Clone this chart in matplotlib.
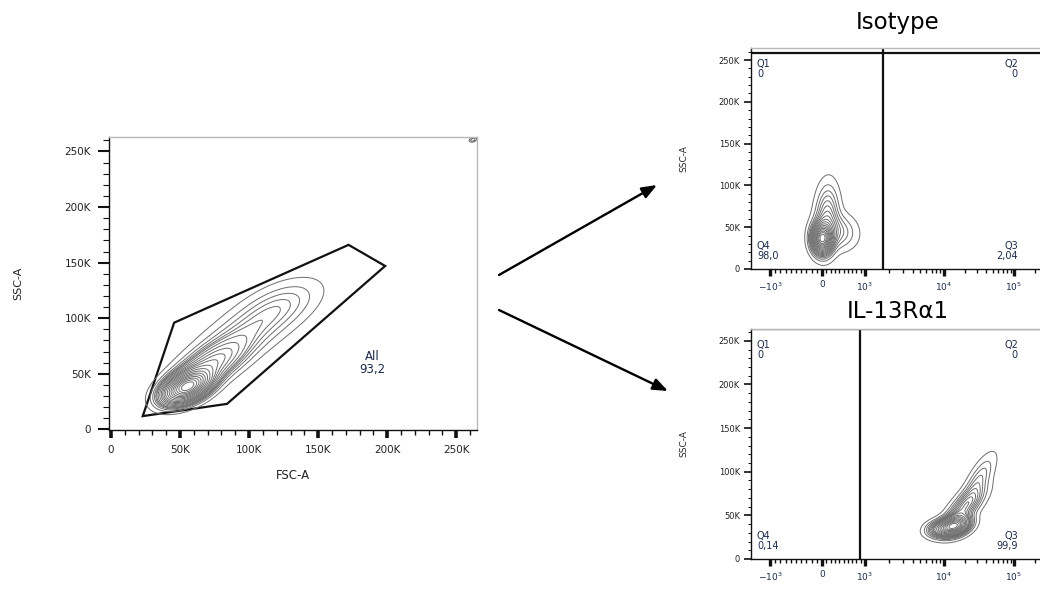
import numpy as np
import matplotlib
matplotlib.use("Agg")
import matplotlib.pyplot as plt
from matplotlib.patches import FancyArrowPatch
from matplotlib.ticker import FixedLocator, MultipleLocator, FuncFormatter

W, H = 1040, 589
TEXT = "#1c2b4a"
CONTOUR = "#6e6e6e"

# ---- FSC/SSC scatter gate ----
gate_fsc = [23000, 45700, 172000, 198500, 84000]
gate_ssc = [12000, 96000, 166000, 147000, 23000]
gate_name, gate_pct = "All", "93,2"

# populations: centre x, centre y, sd x, sd y, correlation, weight
scatter_mx = [55000, 70000, 97000, 122000]
scatter_my = [38000, 56000, 86000, 112000]
scatter_sx = [10000, 17000, 23000, 19000]
scatter_sy = [8500, 15000, 19000, 15000]
scatter_rho = [0.45, 0.7, 0.68, 0.55]
scatter_w = [0.45, 0.29, 0.17, 0.09]

# saturated events piled in the top corner
sat_x, sat_y = [262000], [260500]

# ---- quadrant plots (x on a biexponential display scale) ----
titles = ["Isotype", "IL-13R\u03b11"]
quad_x = [1700, 890]
quad_y = [258000, 263000]
quad_pct = [("0", "0", "2,04", "98,0"), ("0", "0", "99,9", "0,14")]

# x centres in data units, spreads in display units
iso_mx = [0, 116, 330]
iso_my = [36000, 62000, 45000]
iso_su = [6, 7, 12]
iso_sy = [10500, 23000, 13000]
iso_rho = [0.0, 0.1, -0.1]
iso_w = [0.52, 0.30, 0.18]

il_mx = [14400, 20000, 31000, 9200]
il_my = [38000, 60000, 90000, 35000]
il_su = [9, 12, 10, 9]
il_sy = [7000, 14000, 18000, 6000]
il_rho = [0.3, 0.7, 0.75, 0.2]
il_w = [0.45, 0.27, 0.13, 0.15]

# biexponential axis: linear inside +-10^3, decades outside
SCALE_T = np.array([-4, -3, 0, 3, 4, 5, 6], float)
SCALE_POS = np.array([-122, -52, 0, 43, 122, 192, 262], float)


def _t(x):
    x = np.asarray(x, float)
    ax_ = np.abs(x)
    return np.where(ax_ < 1e3, 3 * x / 1e3, np.sign(x) * np.log10(np.maximum(ax_, 1e3)))


def _t_inv(t):
    t = np.asarray(t, float)
    return np.where(np.abs(t) < 3, t * 1e3 / 3, np.sign(t) * 10 ** np.abs(t))


def logicle_fwd(x):
    return np.interp(_t(x), SCALE_T, SCALE_POS)


def logicle_inv(u):
    return _t_inv(np.interp(np.asarray(u, float), SCALE_POS, SCALE_T))


def mixture(X, Y, mx, my, sx, sy, rho, w):
    Z = np.zeros_like(X)
    for a, b, s, t, r, k in zip(mx, my, sx, sy, rho, w):
        dx, dy = (X - a) / s, (Y - b) / t
        q = (dx * dx - 2 * r * dx * dy + dy * dy) / (1 - r * r)
        Z += k * np.exp(-0.5 * q) / (s * t * np.sqrt(1 - r * r))
    return Z


def prob_levels(Z, outer=0.97, n=19):
    # equal-probability contours
    zs = np.sort(Z.ravel())[::-1]
    c = np.cumsum(zs)
    c /= c[-1]
    fracs = np.linspace(outer, 0.05, n)
    return np.unique(np.interp(fracs, c, zs))


def px_axes(left, top, right, bottom):
    return fig.add_axes([left / W, 1 - bottom / H, (right - left) / W, (bottom - top) / H])


def style_spines(ax):
    for side in ("top", "right"):
        ax.spines[side].set_color("#b8b8b8")
        ax.spines[side].set_linewidth(1.0)
    for side in ("left", "bottom"):
        ax.spines[side].set_color("#111111")
        ax.spines[side].set_linewidth(1.0)


def k_fmt(v, p):
    return "0" if v == 0 else f"{int(v / 1000)}K"


def log_fmt(v, p):
    labels = {-1e3: r"$-10^3$", 0: "0", 1e3: r"$10^3$", 1e4: r"$10^4$", 1e5: r"$10^5$"}
    return labels.get(v, "")


fig = plt.figure(figsize=(W / 100, H / 100), dpi=100)

# ---------------- left plot ----------------
ax = px_axes(109, 137, 477, 430)
ax.set_xlim(-1450, 265000)
ax.set_ylim(-500, 263000)
gx = np.linspace(0, 265000, 450)
gy = np.linspace(0, 263000, 450)
GX, GY = np.meshgrid(gx, gy)
Z = mixture(GX, GY, scatter_mx, scatter_my, scatter_sx, scatter_sy, scatter_rho, scatter_w)
ax.contour(GX, GY, Z, levels=prob_levels(Z, 0.965, 20), colors=CONTOUR, linewidths=0.7)

# tiny loop of off-scale events in the corner
cx = np.linspace(255000, 265000, 60)
cy = np.linspace(254000, 265000, 60)
CX, CY = np.meshgrid(cx, cy)
ZS = mixture(CX, CY, sat_x, sat_y, [1500], [1200], [0.3], [1.0])
ax.contour(CX, CY, ZS, levels=[0.2 * ZS.max(), 0.6 * ZS.max()], colors=CONTOUR, linewidths=0.8)

ax.fill(gate_fsc, gate_ssc, facecolor="none", edgecolor="#111111", linewidth=1.6)
ax.text(189000, 60000, f"{gate_name}\n{gate_pct}",
        ha="center", va="center", fontsize=8.5, color=TEXT, linespacing=1.0)

ax.xaxis.set_major_locator(MultipleLocator(50000))
ax.xaxis.set_minor_locator(MultipleLocator(10000))
ax.yaxis.set_major_locator(MultipleLocator(50000))
ax.yaxis.set_minor_locator(MultipleLocator(10000))
ax.xaxis.set_major_formatter(FuncFormatter(k_fmt))
ax.yaxis.set_major_formatter(FuncFormatter(k_fmt))
ax.tick_params(axis="x", which="major", length=6, width=2.6, labelsize=7.5, colors="#111111", labelcolor="#222222", pad=5)
ax.tick_params(axis="x", which="minor", length=3.5, width=1.0, colors="#111111")
ax.tick_params(axis="y", which="major", length=8, width=1.5, labelsize=7.5, colors="#111111", labelcolor="#222222", pad=5)
ax.tick_params(axis="y", which="minor", length=4, width=0.8, colors="#111111")
style_spines(ax)
ax.set_xlabel("FSC-A", fontsize=8.5, color="#222222", labelpad=10)
ax.set_ylabel("SSC-A", fontsize=8, color="#222222", labelpad=30)

# ---------------- quadrant plots ----------------
boxes = [(751, 48, 1045, 269), (751, 329, 1045, 559)]
ymax = [264400, 263500]
title_pad = [14, 8]
pops = [(iso_mx, iso_my, iso_su, iso_sy, iso_rho, iso_w),
        (il_mx, il_my, il_su, il_sy, il_rho, il_w)]

u = np.linspace(-71, 223, 450)
yy = np.linspace(0, 264000, 450)
U, YY = np.meshgrid(u, yy)
XD = logicle_inv(U)

minor_ticks = ([-v for v in range(100, 1000, 100)] + list(range(100, 1000, 100))
               + [m * 10 ** e for e in (3, 4) for m in range(2, 10)] + [2e5])

for i, box in enumerate(boxes):
    ax = px_axes(*box)
    ax.set_xscale("function", functions=(logicle_fwd, logicle_inv))
    ax.set_xlim(logicle_inv(-71), logicle_inv(223))
    ax.set_ylim(0, ymax[i])

    mx, my, su, sy, rho, w = pops[i]
    Z = mixture(U, YY, logicle_fwd(mx), my, su, sy, rho, w)
    ax.contour(XD, YY, Z, levels=prob_levels(Z, 0.97, 18), colors=CONTOUR, linewidths=0.7)

    ax.axvline(quad_x[i], color="#111111", linewidth=1.6)
    ax.axhline(quad_y[i], color="#111111", linewidth=1.6)

    q1, q2, q3, q4 = quad_pct[i]
    kw = dict(fontsize=7, color=TEXT, linespacing=1.0, transform=ax.transAxes)
    ax.text(0.02, 0.95, f"Q1\n{q1}", ha="left", va="top", **kw)
    ax.text(0.908, 0.95, f"Q2\n{q2}", ha="right", va="top", **kw)
    ax.text(0.02, 0.035, f"Q4\n{q4}", ha="left", va="bottom", **kw)
    ax.text(0.908, 0.035, f"Q3\n{q3}", ha="right", va="bottom", **kw)

    ax.xaxis.set_major_locator(FixedLocator([-1e3, 0, 1e3, 1e4, 1e5]))
    ax.xaxis.set_major_formatter(FuncFormatter(log_fmt))
    ax.xaxis.set_minor_locator(FixedLocator(minor_ticks))
    ax.yaxis.set_major_locator(MultipleLocator(50000))
    ax.yaxis.set_minor_locator(MultipleLocator(10000))
    ax.yaxis.set_major_formatter(FuncFormatter(k_fmt))
    ax.tick_params(axis="x", which="major", length=5, width=2.4, labelsize=6.5, colors="#111111", labelcolor=TEXT, pad=3)
    ax.tick_params(axis="x", which="minor", length=3, width=1.0, colors="#111111")
    ax.tick_params(axis="y", which="major", length=5, width=1.2, labelsize=6, colors="#111111", labelcolor="#222222", pad=3)
    ax.tick_params(axis="y", which="minor", length=2.5, width=0.7, colors="#111111")
    style_spines(ax)
    ax.set_ylabel("SSC-A", fontsize=6.5, color="#222222", labelpad=22)
    ax.set_title(titles[i], fontsize=16.5, pad=title_pad[i])

# arrows between the panels (figure pixel coordinates)
arrows = [((499, 275), (657, 185)), ((499, 310), (668, 391))]
for (x0, y0), (x1, y1) in arrows:
    fig.add_artist(FancyArrowPatch(
        (x0 / W, 1 - y0 / H), (x1 / W, 1 - y1 / H), transform=fig.transFigure,
        arrowstyle="-|>,head_length=9,head_width=3.5", mutation_scale=1,
        color="black", linewidth=1.7, shrinkA=0, shrinkB=0))

fig.savefig("out.png", dpi=100, facecolor="white")
